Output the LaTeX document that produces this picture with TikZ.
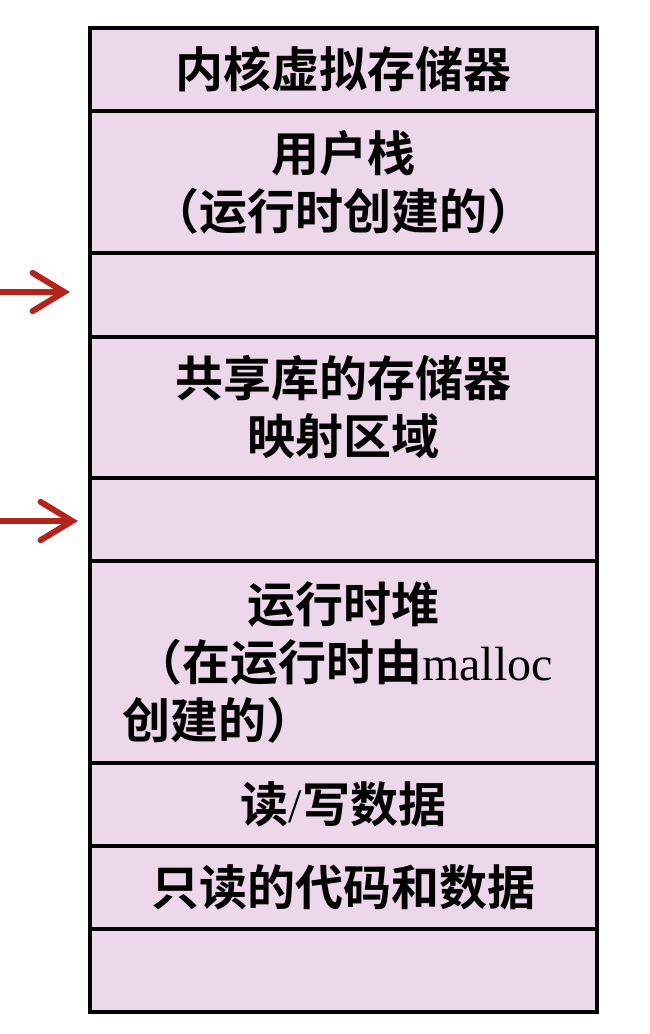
\documentclass[tikz,border=0pt]{standalone}
\usepackage{fontspec}
\setmainfont{Liberation Serif}
\newfontfamily\cjk{Noto Sans CJK SC}[BoldFont={Noto Sans CJK SC Bold}]
\usetikzlibrary{positioning,arrows.meta}
\definecolor{segfill}{RGB}{236,216,234}
\definecolor{ptrred}{RGB}{180,36,28}
\tikzset{
  seg/.style={draw=black, line width=4*0.03cm, fill=segfill, outer sep=0pt,
    minimum width=507*0.03cm, align=center, inner sep=0pt,
    font=\cjk\bfseries\fontsize{41}{49.5}\selectfont},
  rowh/.style={minimum height=#1*0.03cm},
  ptr/.style={draw=ptrred, line width=6*0.03cm, line cap=round,
    -{Straight Barb[length=0.95cm, width=1.15cm, line cap=round]}}
}
\newcommand\latn[1]{{\rmfamily\mdseries #1}}
\begin{document}
\begin{tikzpicture}[x=0.03cm, y=-0.03cm]
	\useasboundingbox (0,0) rectangle (650,1034);
	% address space, top to bottom
	\node[seg, rowh=83] (kernel) at (343.5,69.5) {内核虚拟存储器};
	\node[seg, rowh=142, below=0pt of kernel] (stack) {用户栈\\（运行时创建的）};
	\node[seg, rowh=84, below=0pt of stack] (gapA) {};
	\node[seg, rowh=141, below=0pt of gapA] (shlib) {共享库的存储器\\映射区域};
	\node[seg, rowh=83, below=0pt of shlib] (gapB) {};
	\node[seg, rowh=202, below=0pt of gapB] (heap)
		{运行时堆\\（在运行时由\latn{malloc}\\创建的）\hspace*{7.5cm}};
	\node[seg, rowh=83, below=0pt of heap] (rwdata) {读\latn{/}写数据};
	\node[seg, rowh=83, below=0pt of rwdata] (rodata) {只读的代码和数据};
	\node[seg, rowh=83, below=0pt of rodata] (bottom) {};
	% pointers
	\coordinate (inA) at (0,292);
	\coordinate (inB) at (0,521);
	\draw[ptr, shorten >=20*0.03cm] (inA) -- (gapA.west|-inA);
	\draw[ptr, shorten >=12*0.03cm] (inB) -- (gapB.west|-inB);
\end{tikzpicture}
\end{document}
